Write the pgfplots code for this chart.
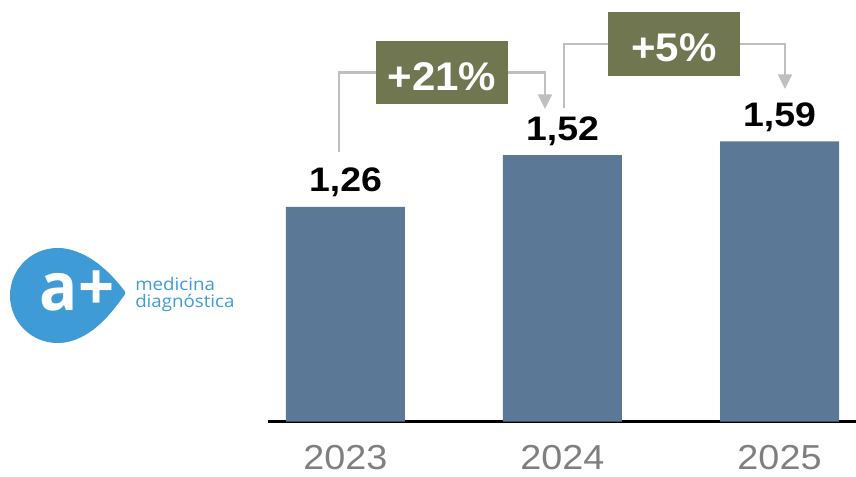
\documentclass[border=0pt]{standalone}
\usepackage{fontspec}
\setmainfont{Liberation Sans}
\newfontfamily\logofont{Open Sans}
\usepackage{graphicx}
\usepackage{pgfplots}
\pgfplotsset{compat=1.18}
\usetikzlibrary{arrows.meta}
\definecolor{barblue}{HTML}{5B7896}
\definecolor{boxolive}{HTML}{707650}
\definecolor{conngrey}{HTML}{BFBFBF}
\definecolor{yeargrey}{HTML}{7F7F7F}
\definecolor{logoblue}{HTML}{3F9BD6}
\newcommand{\yr}[1]{\scalebox{1.09}[1]{#1}}
\begin{document}
\begin{tikzpicture}
\useasboundingbox (0pt,0pt) rectangle (642pt,357pt);
\begin{axis}[
  at={(201pt,40.875pt)}, anchor=south west,
  scale only axis, width=441pt, height=316.125pt,
  xmin=-0.357, xmax=2.3525, ymin=0.18, ymax=2.3013,
  axis x line*=bottom, axis y line=none,
  x axis line style={line width=1.6pt, black, -},
  xtick={0,1,2}, xticklabels={\yr{2023},\yr{2024},\yr{2025}},
  major tick length=0pt,
  xticklabel style={font=\fontsize{26}{26}\selectfont, text=yeargrey, inner sep=0pt, anchor=north, yshift=-17.6pt},
  ytick=\empty,
  ybar, bar width=89.25pt,
  point meta=explicit symbolic,
  nodes near coords={\scalebox{1.1}[1]{\pgfplotspointmeta}},
  nodes near coords style={font=\bfseries\fontsize{25.5}{25.5}\selectfont, anchor=base, inner sep=0pt, yshift=11.25pt, text=black},
]
\addplot[fill=barblue, draw=none] coordinates {(0,1.26) [1,26] (1,1.52) [1,52] (2,1.59) [1,59]};
\end{axis}
\begin{scope}[shift={(0pt,357pt)}, x=0.75pt, y=-0.75pt]
% connectors
\draw[conngrey, line width=1.5pt, -{Triangle[width=10.5pt,length=11pt]}] (339,152) |- (545,72.5) -- (545,109);
\draw[conngrey, line width=1.5pt, -{Triangle[width=10.5pt,length=11pt]}] (564,108) |- (785,44) -- (785,89);
\fill[boxolive] (376,41) rectangle (508,104);
\fill[boxolive] (608,12) rectangle (740,76);
\node[text=white, font=\bfseries\fontsize{30}{30}\selectfont, inner sep=0pt, anchor=base] at (442,90) {\scalebox{1.05}[1]{+21\%}};
\node[text=white, font=\bfseries\fontsize{30}{30}\selectfont, inner sep=0pt, anchor=base] at (674,61) {\scalebox{1.05}[1]{+5\%}};
% logo
\fill[logoblue] (57.5,295.5) circle[radius=47.5];
\fill[logoblue] (60,248.3) .. controls (90,250) and (112,275) .. (123,289) .. controls (126,292) and (126,294) .. (123,297) .. controls (110,315) and (90,341) .. (60,342.7) -- cycle;
\node[text=white, font=\logofont\bfseries\fontsize{50}{50}\selectfont, anchor=base, inner sep=0pt] at (77,310) {\scalebox{0.95}[1]{a+}};
\node[anchor=base west, text=logoblue, font=\logofont\fontsize{13}{13}\selectfont, inner sep=0pt, text depth=0pt] at (135,290) {\scalebox{1.08}[1]{medicina}};
\node[anchor=base west, text=logoblue, font=\logofont\fontsize{13}{13}\selectfont, inner sep=0pt, text height=9pt] at (135,307.5) {\scalebox{1.08}[1]{diagnóstica}};
\end{scope}
\end{tikzpicture}
\end{document}
